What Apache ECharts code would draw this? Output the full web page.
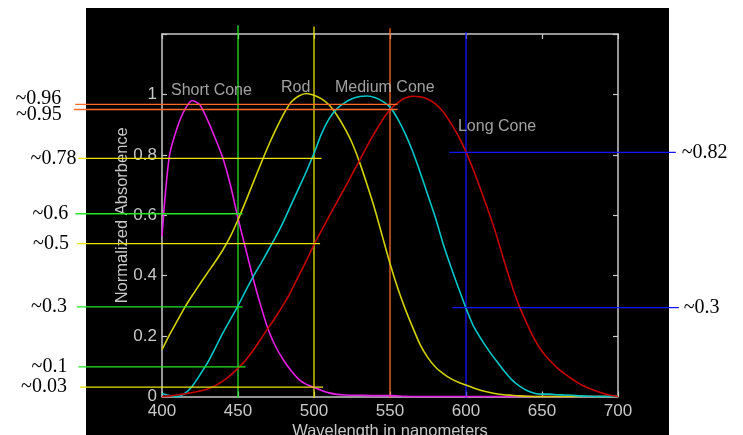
<!DOCTYPE html>
<html><head><meta charset="utf-8">
<script src="https://cdn.jsdelivr.net/npm/echarts@6/dist/echarts.min.js"></script>
<style>html,body{margin:0;padding:0;background:#fff}#c{width:743px;height:435px}</style>
</head><body><div id="c"></div>
<script>
// ---- data ----
const wavelengths = [400,405,410,415,420,425,430,435,440,445,450,455,460,465,470,475,480,485,490,495,500,505,510,515,520,525,530,535,540,545,550,555,560,565,570,575,580,585,590,595,600,605,610,615,620,625,630,635,640,645,650,655,660,665,670,675,680,685,690,695,700];
const rodValues = [0.155,0.205,0.25,0.295,0.335,0.373,0.41,0.446,0.485,0.53,0.585,0.645,0.708,0.77,0.83,0.885,0.935,0.975,0.995,1.003,0.997,0.985,0.965,0.932,0.89,0.84,0.775,0.70,0.62,0.53,0.44,0.36,0.29,0.228,0.17,0.128,0.097,0.076,0.059,0.047,0.038,0.028,0.02,0.014,0.009,0.006,0.004,0.002,0.001,0,0,0,0,0,0,0,0,0,0,0,0];
const mediumValues = [0.01,0.003,0,0.01,0.035,0.072,0.112,0.16,0.21,0.255,0.30,0.35,0.397,0.44,0.485,0.53,0.58,0.635,0.69,0.745,0.805,0.87,0.92,0.952,0.972,0.986,0.993,0.995,0.99,0.978,0.958,0.92,0.87,0.81,0.74,0.665,0.59,0.505,0.43,0.36,0.292,0.232,0.19,0.152,0.118,0.085,0.056,0.035,0.02,0.011,0.008,0.008,0.006,0.005,0.004,0.002,0.001,0,0,0,0];
const longValues = [0,0.002,0.005,0.009,0.013,0.018,0.025,0.036,0.051,0.07,0.094,0.12,0.153,0.19,0.228,0.265,0.305,0.35,0.40,0.45,0.503,0.55,0.597,0.643,0.688,0.735,0.782,0.83,0.874,0.915,0.95,0.972,0.988,0.994,0.992,0.984,0.968,0.943,0.905,0.862,0.81,0.748,0.68,0.61,0.535,0.45,0.37,0.30,0.242,0.19,0.15,0.12,0.095,0.075,0.057,0.041,0.029,0.019,0.011,0.004,0];
const shortWl = [400,402,405,410,415,420,425,430,435,440,445,450,455,460,465,470,475,480,485,490,495,500,505,510,515,520,530,540,550,560,570,580,600,650,700];
const shortValues = [0.53,0.66,0.80,0.89,0.95,0.98,0.965,0.915,0.855,0.79,0.70,0.59,0.49,0.39,0.30,0.22,0.163,0.12,0.085,0.057,0.04,0.03,0.02,0.012,0.007,0.005,0.004,0.003,0.003,0.001,0,0,0,0,0];

const curveNames = ['Short Cone','Rod','Medium Cone','Long Cone'];
const curveLabelX = [405.9,478.3,513.8,594.7];
const curveLabelY = [1.012,1.024,1.024,0.895];

const guideVX = [450,500,550,600];
const guideVTop = [1.229,1.225,1.219,1.206];

const guideText = ['~0.96','~0.95','~0.78','~0.6','~0.5','~0.3','~0.1','~0.03','~0.82','~0.3'];
const guideY = [0.967,0.950,0.788,0.605,0.506,0.297,0.098,0.031,0.808,0.294];
const guideFrom = [343,342,345,343,344,344,345,346,589,591];
const guideTo = [555,555,505,453,504,453,455,506,738,740];

const xTicks = [400,450,500,550,600,650,700];
const yTicks = ['0','0.2','0.4','0.6','0.8','1'];

// ---- styles ----
const vColors = ['#22e622','#e6e600','#ff6a28','#1414ff'];
const gColors = ['#ff6a28','#ff6a28','#e6e600','#22e622','#e6e600','#22e622','#22e622','#e6e600','#1414ff','#1414ff'];
const gDist = [14,12,2,7,8,10,11,13,6,5];
const gDy = [-6,5,0,0,0,0,0,0,0,0];
const gSide = ['left','left','left','left','left','left','left','left','right','right'];

const frame = '#c8c8c8';
const sans = 'Liberation Sans, Arial, sans-serif';
const serif = 'Liberation Serif, Times New Roman, serif';

const chart = echarts.init(document.getElementById('c'));
const series = [];

// vertical guides
guideVX.forEach((x,i)=>{
  series.push({type:'line', clip:false, silent:true, symbol:'none', z:3,
    lineStyle:{color:vColors[i], width:1.3},
    data:[[x,-0.005],[x,guideVTop[i]]]});
});
// curves
const mk = (xs,ys)=>xs.map((x,i)=>[x,ys[i]]);
const curveStyle = (c)=>({type:'line', symbol:'none', smooth:0.25, silent:true, z:4, clip:false, lineStyle:{color:c,width:1.6}});
series.push(Object.assign(curveStyle('#e61ee6'),{name:'Short Cone', data:mk(shortWl,shortValues)}));
series.push(Object.assign(curveStyle('#d2d200'),{name:'Rod', data:mk(wavelengths,rodValues)}));
series.push(Object.assign(curveStyle('#00c8c8'),{name:'Medium Cone', data:mk(wavelengths,mediumValues)}));
series.push(Object.assign(curveStyle('#c80000'),{name:'Long Cone', data:mk(wavelengths,longValues)}));
// curve name texts
series.push({type:'scatter', symbolSize:0, silent:true, z:5,
  data:curveNames.map((n,i)=>({name:n, value:[curveLabelX[i],curveLabelY[i]]})),
  label:{show:true, position:'right', distance:0, formatter:p=>p.name, color:'#c8c8c8', fontFamily:sans, fontSize:16}});

const axisCommon = {
  axisLine:{show:true, onZero:false, lineStyle:{color:frame,width:1.5}},
  axisTick:{show:true, inside:true, length:5, lineStyle:{color:frame,width:1.2}},
  splitLine:{show:false}
};

const bgRect = {type:'rect', id:'bg', left:86, top:8, z:-100, silent:true, shape:{width:583,height:427}, style:{fill:'#000'}};

chart.setOption({
  animation:false,
  backgroundColor:'#fff',
  graphic:{elements:[bgRect]},
  grid:{left:162, right:125, top:34, bottom:38.5, containLabel:false, outerBoundsMode:'none'},
  xAxis:[
    Object.assign({type:'value', min:xTicks[0], max:xTicks[xTicks.length-1], interval:50, position:'bottom',
      name:'Wavelength in nanometers', nameLocation:'middle', nameGap:26, nameMoveOverlap:false,
      nameTextStyle:{color:'#c8c8c8', fontFamily:sans, fontSize:16.5},
      axisLabel:{color:'#c8c8c8', fontFamily:sans, fontSize:17, margin:6}}, axisCommon),
    Object.assign({type:'value', min:400, max:700, interval:50, position:'top', axisLabel:{show:false}}, axisCommon)
  ],
  yAxis:[
    Object.assign({type:'value', min:0, max:1.2, interval:0.2, position:'left',
      name:'Normalized Absorbence', nameLocation:'middle', nameGap:31, nameRotate:90, nameMoveOverlap:false,
      nameTextStyle:{color:'#c8c8c8', fontFamily:sans, fontSize:16.5},
      axisLabel:{color:'#c8c8c8', fontFamily:sans, fontSize:17, margin:5,
        formatter:(v)=>{const k=Math.round(v/0.2); return k<yTicks.length? yTicks[k] : '';}}}, axisCommon),
    Object.assign({type:'value', min:0, max:1.2, interval:0.2, position:'right', axisLabel:{show:false}}, axisCommon)
  ],
  series:series
});

// horizontal guides + their labels, placed through the chart's own scales
const els = [bgRect];
guideY.forEach((y,i)=>{
  const a = chart.convertToPixel({gridIndex:0}, [guideFrom[i], y]);
  const b = chart.convertToPixel({gridIndex:0}, [guideTo[i], y]);
  els.push({type:'line', silent:true, z:30, shape:{x1:a[0], y1:a[1], x2:b[0], y2:b[1]},
    style:{stroke:gColors[i], lineWidth:1.3}});
  const left = gSide[i]==='left';
  els.push({type:'text', silent:true, z:30,
    x: left ? a[0]-gDist[i] : b[0]+gDist[i], y: a[1]+gDy[i],
    style:{text:guideText[i], align: left?'right':'left', verticalAlign:'middle',
      fontFamily:serif, fontSize:20, fill:'#000'}});
});
chart.setOption({graphic:{elements:els}});
</script></body></html>
